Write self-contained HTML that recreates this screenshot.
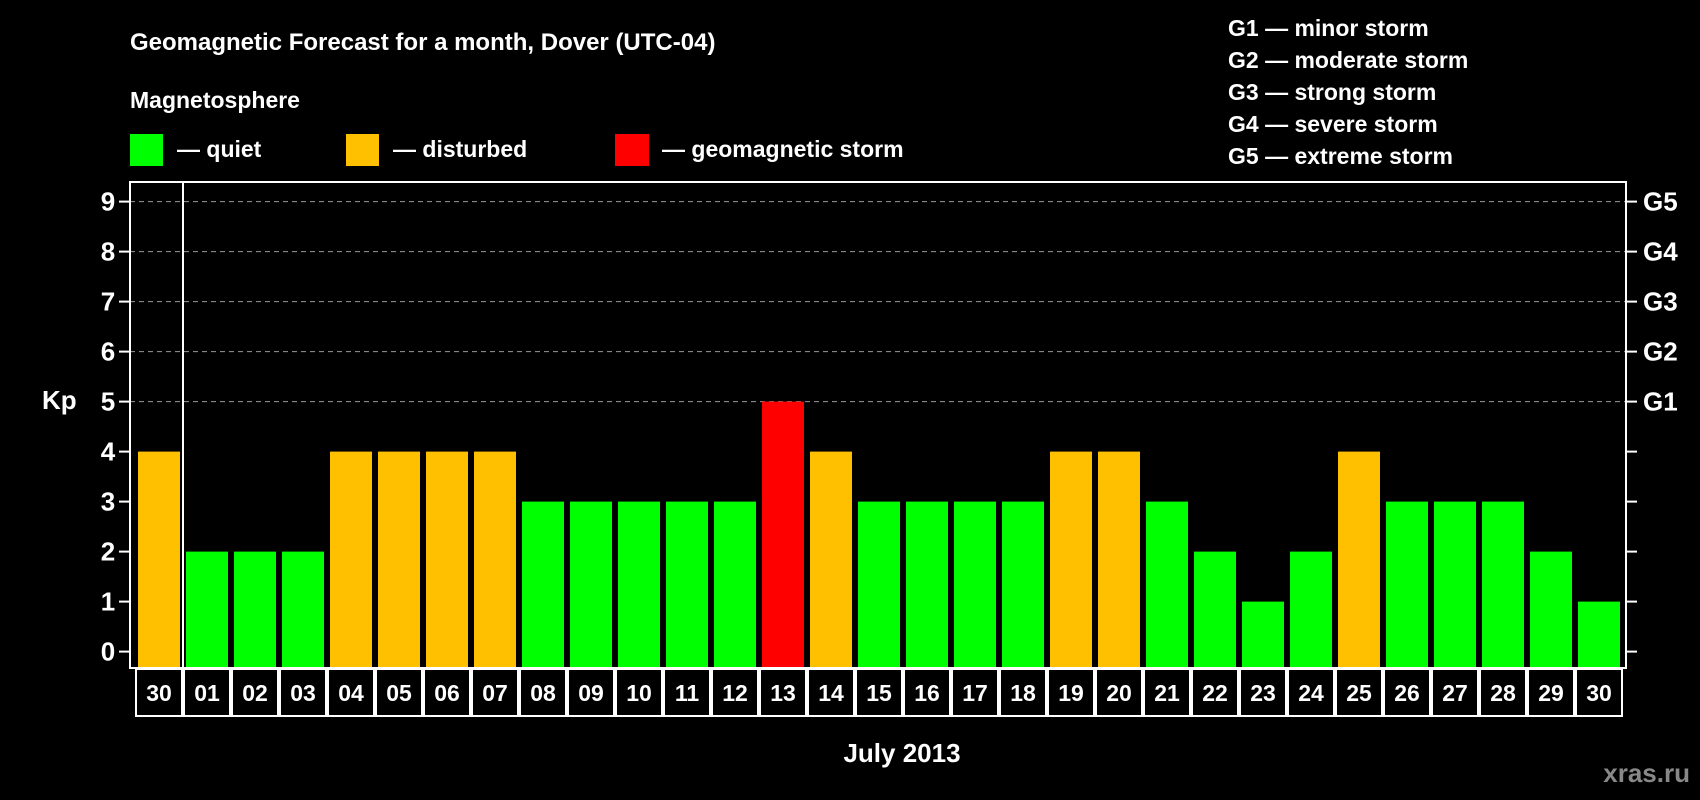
<!DOCTYPE html>
<html><head><meta charset="utf-8"><style>
html,body{margin:0;padding:0;background:#000;}
svg{display:block;font-family:"Liberation Sans",Arial,sans-serif;font-weight:bold;}
</style></head><body>
<svg id="chart" width="1700" height="800" viewBox="0 0 1700 800" xmlns="http://www.w3.org/2000/svg">
<rect width="1700" height="800" fill="#000"/>
<text x="130" y="50" fill="#fff" font-size="24">Geomagnetic Forecast for a month, Dover (UTC-04)</text>
<text x="130" y="108" fill="#fff" font-size="23">Magnetosphere</text>
<rect x="130" y="134" width="33" height="32" fill="#00ff00"/>
<text x="177" y="157" fill="#fff" font-size="23">— quiet</text>
<rect x="346" y="134" width="33" height="32" fill="#ffc000"/>
<text x="393" y="157" fill="#fff" font-size="23">— disturbed</text>
<rect x="615" y="134" width="34" height="32" fill="#ff0000"/>
<text x="662" y="157" fill="#fff" font-size="23">— geomagnetic storm</text>
<g fill="#fff" font-size="23">
<text x="1228" y="36">G1 — minor storm</text>
<text x="1228" y="68">G2 — moderate storm</text>
<text x="1228" y="100">G3 — strong storm</text>
<text x="1228" y="132">G4 — severe storm</text>
<text x="1228" y="164">G5 — extreme storm</text>
</g>
<text x="42" y="409" fill="#fff" font-size="26">Kp</text>
<text x="902" y="762" fill="#fff" font-size="26" text-anchor="middle">July 2013</text>
<text x="1690" y="782" fill="#888" font-size="26" text-anchor="end">xras.ru</text>
<g id="plot"></g>
</svg>
<script>
const days = ["30","01","02","03","04","05","06","07","08","09","10","11","12","13","14","15","16","17","18","19","20","21","22","23","24","25","26","27","28","29","30"];
const kpValues = [4,2,2,2,4,4,4,4,3,3,3,3,3,5,4,3,3,3,3,4,4,3,2,1,2,4,3,3,3,2,1];
const yTicks = [0,1,2,3,4,5,6,7,8,9];
const gLabels = ["","","","","","G1","G2","G3","G4","G5"];

const NS="http://www.w3.org/2000/svg";
const plot=document.getElementById('plot');
const L=130,R=1626,T=182,B=668,slot0=135,slotW=48;
const y=v=>651.6-50*v;
const x=i=>slot0+i*slotW;
function mk(tag,attrs){const e=document.createElementNS(NS,tag);for(const k in attrs)e.setAttribute(k,attrs[k]);plot.appendChild(e);return e;}
function color(v){return v>=5?"#ff0000":(v>=4?"#ffc000":"#00ff00");}

yTicks.forEach((t,i)=>{
  if(t>=5){const g=mk('line',{x1:L,x2:R,y1:y(t),y2:y(t),stroke:"#999","stroke-width":1,"stroke-dasharray":"5,4"});
  
  }
  const tl=mk('line',{x1:L-11,x2:L,y1:y(t),y2:y(t),stroke:"#fff","stroke-width":2});
  
  
  const tr=mk('line',{x1:R,x2:R+11,y1:y(t),y2:y(t),stroke:"#fff","stroke-width":2});
  
  
  const lb=mk('text',{x:108,y:y(t)+9,fill:"#fff","font-size":26,"text-anchor":"middle"});
  lb.textContent=t;
  
  
  if(gLabels[i]){const g=mk('text',{x:1643,y:y(t)+9,fill:"#fff","font-size":26});
  g.textContent=gLabels[i];
  
  }
});

kpValues.forEach((v,i)=>{
  const b=mk('rect',{x:x(i)+3,y:y(v),width:slotW-6,height:B-y(v),fill:color(v)});
  
  
  const bx=mk('rect',{x:x(i)+1,y:B+1,width:slotW-2,height:47,fill:"none",stroke:"#fff","stroke-width":2});
  
  
  const tx=mk('text',{x:x(i)+slotW/2,y:B+33,fill:"#fff","font-size":23,"text-anchor":"middle"});
  tx.textContent=days[i];
  
  
});

const fr=mk('rect',{x:L,y:T,width:R-L,height:B-T,fill:"none",stroke:"#fff","stroke-width":2});


const dv=mk('line',{x1:x(1),x2:x(1),y1:T,y2:B,stroke:"#fff","stroke-width":2});


</script>
</body></html>
